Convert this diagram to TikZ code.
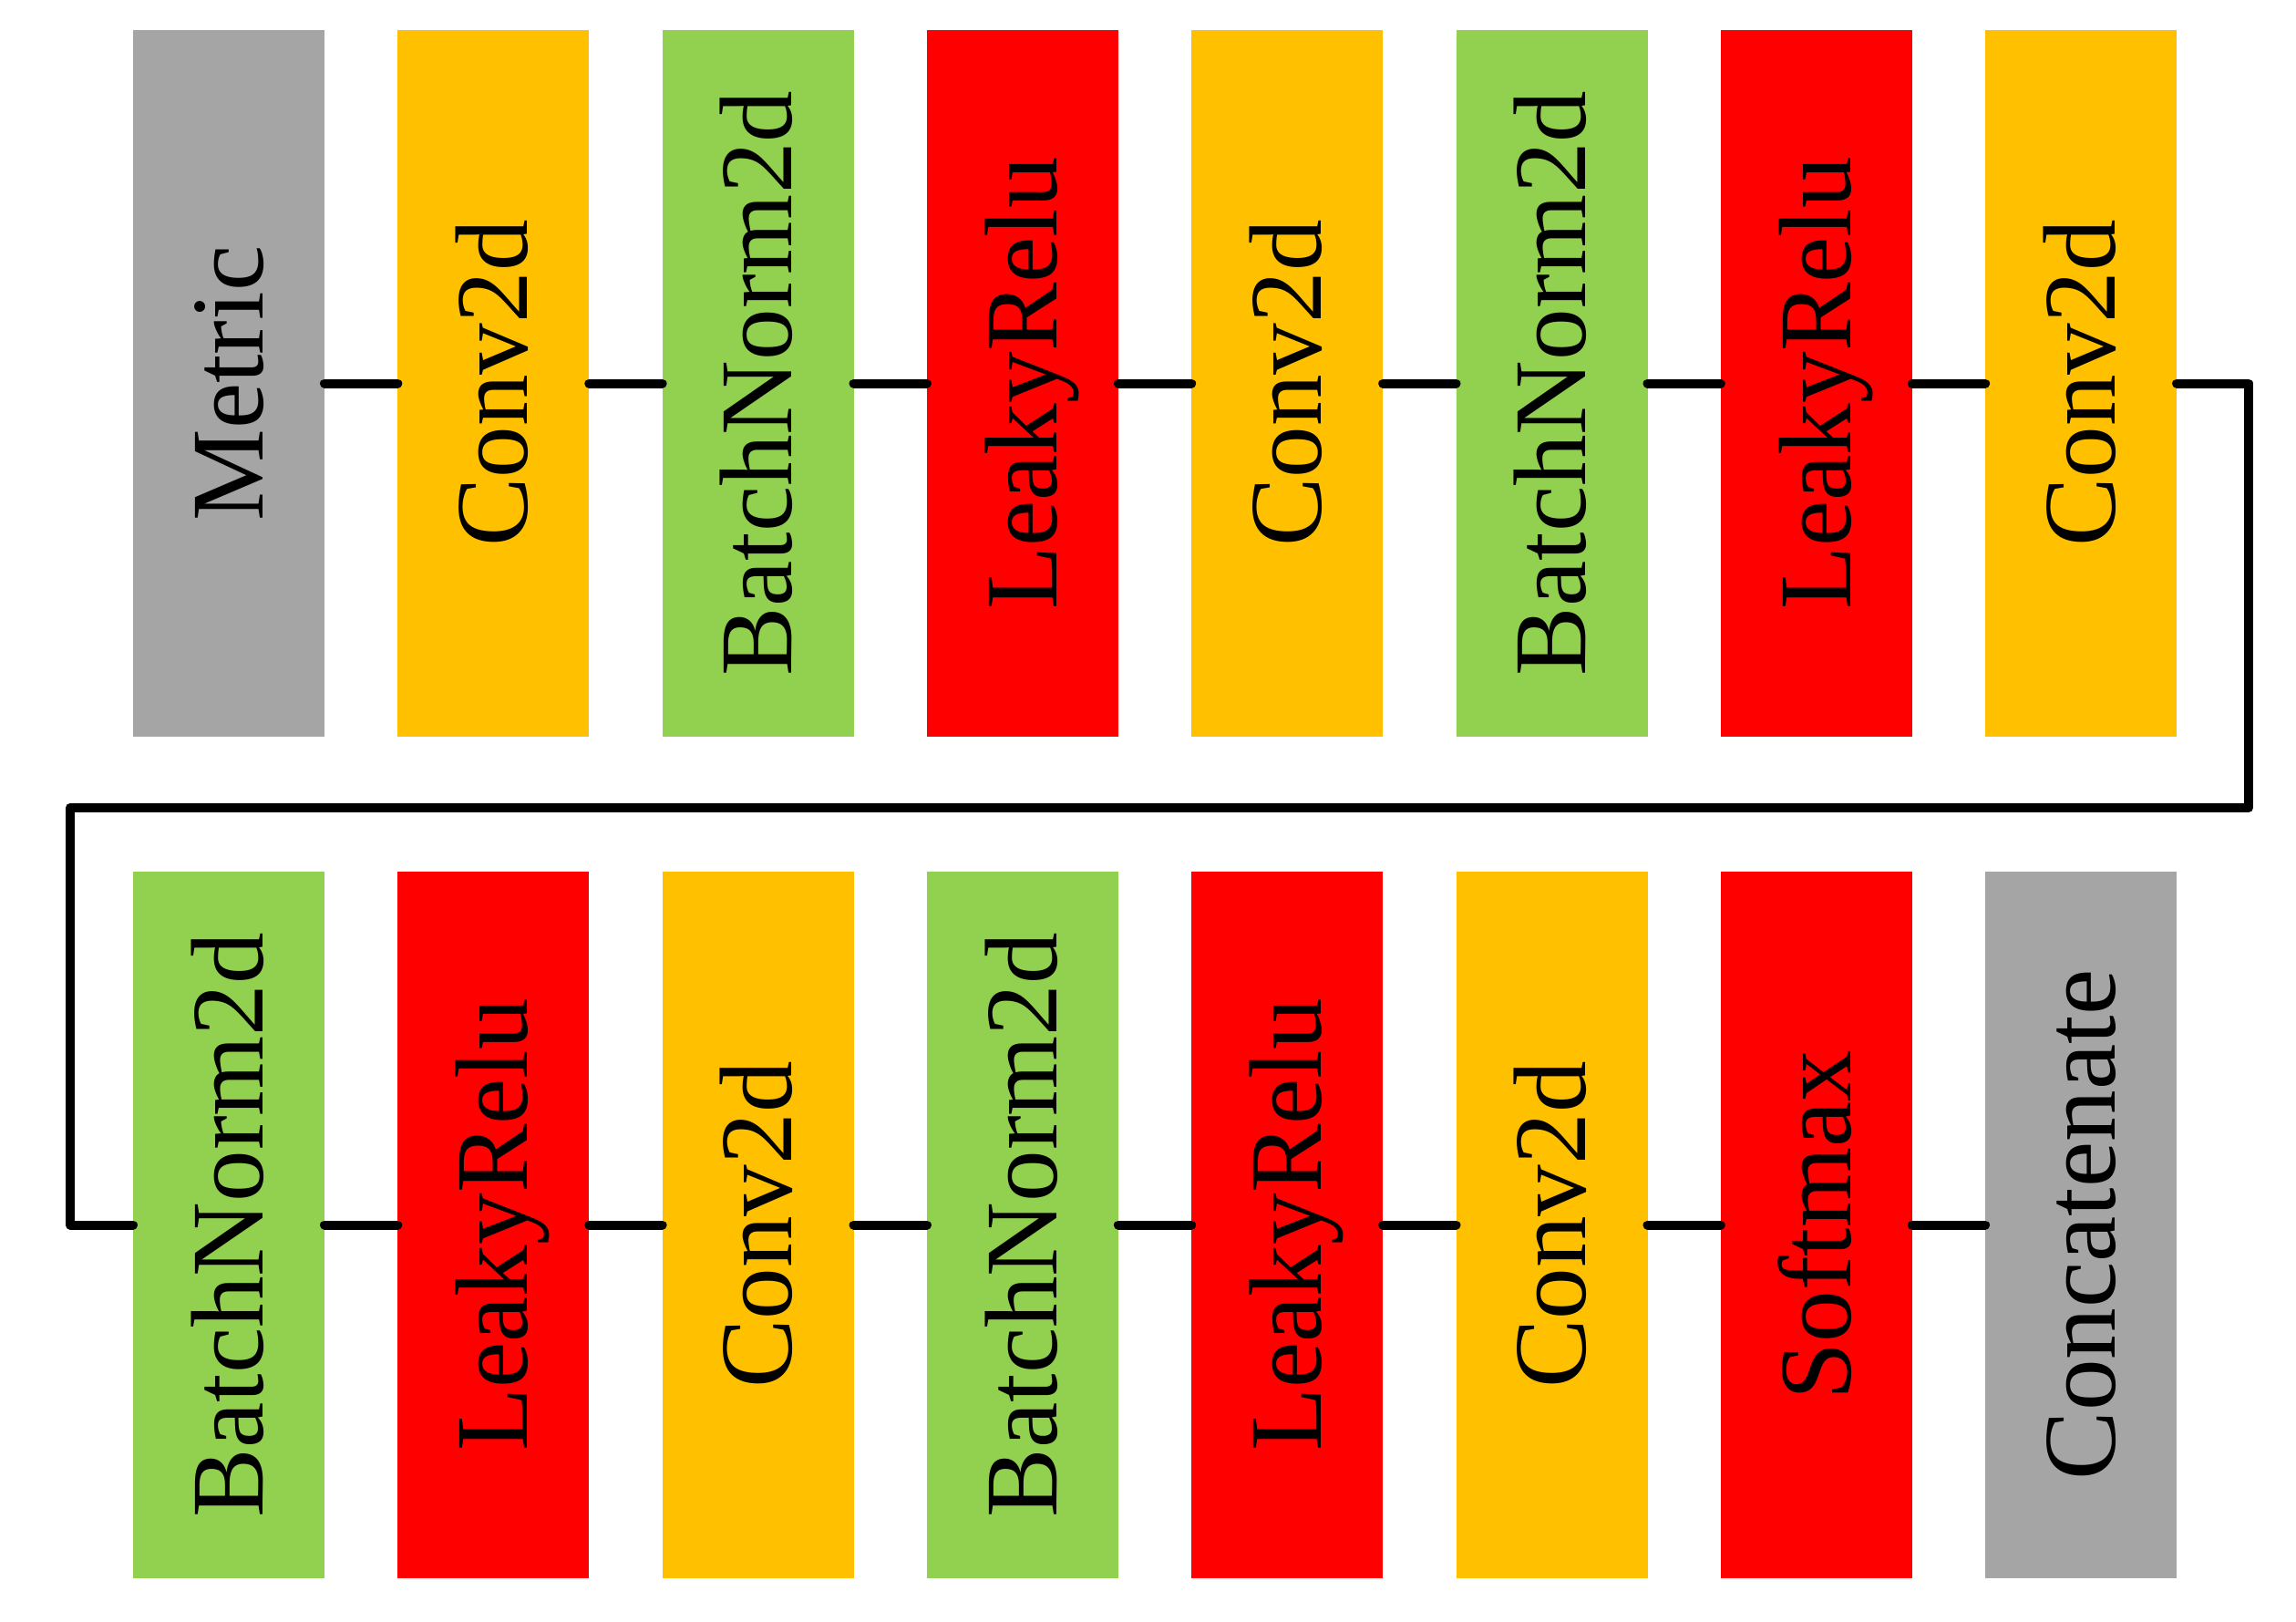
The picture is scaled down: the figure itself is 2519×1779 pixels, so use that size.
\documentclass[tikz,border=0pt]{standalone}
\usepackage{fontspec}
\setmainfont{Liberation Serif}
\definecolor{cgray}{HTML}{A5A5A5}
\definecolor{corange}{HTML}{FFC000}
\definecolor{cgreen}{HTML}{92D050}
\definecolor{cred}{HTML}{FF0000}
\begin{document}
\begin{tikzpicture}[x=0.25pt,y=-0.25pt,
  layer/.style={rotate=90, draw=none, inner sep=0pt, outer sep=0pt,
    minimum width=193.75pt, minimum height=52.5pt,
    text height=18.6pt, text depth=0pt,
    font=\fontsize{28.3pt}{34pt}\selectfont},
  gbox/.style={layer, fill=cgray},
  obox/.style={layer, fill=corange},
  gnbox/.style={layer, fill=cgreen},
  rbox/.style={layer, fill=cred},
  link/.style={line width=2.5pt, line cap=round, line join=round}]
\useasboundingbox (0,0) rectangle (2519,1779);
% top row
\node[gbox]  (t1) at (251.0,420.5) {Metric};
\node[obox]  (t2) at (541.3,420.5) {Conv2d};
\node[gnbox] (t3) at (831.6,420.5) {BatchNorm2d};
\node[rbox]  (t4) at (1121.9,420.5) {LeakyRelu};
\node[obox]  (t5) at (1412.2,420.5) {Conv2d};
\node[gnbox] (t6) at (1702.5,420.5) {BatchNorm2d};
\node[rbox]  (t7) at (1992.8,420.5) {LeakyRelu};
\node[obox]  (t8) at (2283.1,420.5) {Conv2d};
% bottom row
\node[gnbox] (b1) at (251.0,1343.5) {BatchNorm2d};
\node[rbox]  (b2) at (541.3,1343.5) {LeakyRelu};
\node[obox]  (b3) at (831.6,1343.5) {Conv2d};
\node[gnbox] (b4) at (1121.9,1343.5) {BatchNorm2d};
\node[rbox]  (b5) at (1412.2,1343.5) {LeakyRelu};
\node[obox]  (b6) at (1702.5,1343.5) {Conv2d};
\node[rbox]  (b7) at (1992.8,1343.5) {Softmax};
\node[gbox]  (b8) at (2283.1,1343.5) {Concatenate};
% snake corners
\coordinate (c1) at (2467,420.5);
\coordinate (c2) at (2467,886);
\coordinate (c3) at (77,886);
\coordinate (c4) at (77,1343.5);
% connectors (rotated nodes: south = page right, north = page left)
\foreach \a/\b in {t1/t2,t2/t3,t3/t4,t4/t5,t5/t6,t6/t7,t7/t8,
                   b1/b2,b2/b3,b3/b4,b4/b5,b5/b6,b6/b7,b7/b8}
  \draw[link] (\a.south) -- (\b.north);
\draw[link] (t8.south) -- (c1) -- (c2) -- (c3) -- (c4) -- (b1.north);
\end{tikzpicture}
\end{document}
